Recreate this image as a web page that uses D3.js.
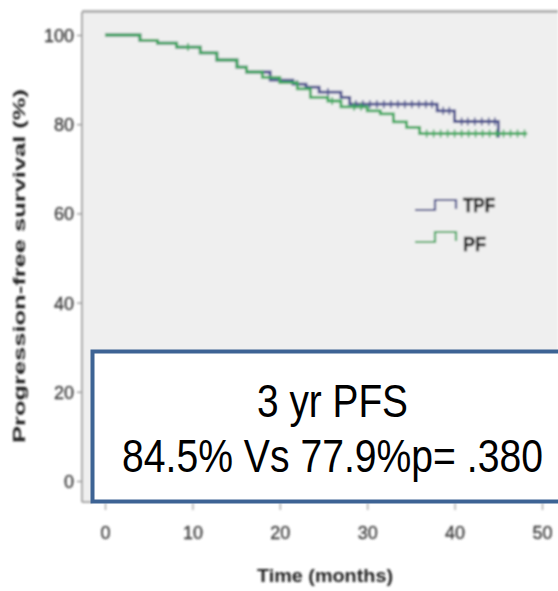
<!DOCTYPE html>
<html>
<head>
<meta charset="utf-8">
<script src="https://cdn.jsdelivr.net/npm/d3@7"></script>
<style>
  html, body { margin: 0; padding: 0; background: #ffffff; }
  svg { display: block; }
</style>
</head>
<body>
<svg id="chart" width="558" height="591"></svg>
<script>
// Kaplan-Meier step data: event times (months) and survival (%)
const tpfTimes = [0, 4.0, 6.0, 8.2, 10.9, 12.8, 15.1, 16.2, 18.9, 21.5, 23.0, 24.5, 27.0, 28.0, 38.0, 40.0, 45.0];
const tpfSurv  = [100, 98.8, 98.2, 97.3, 96.0, 94.4, 92.8, 91.7, 89.9, 89.0, 88.3, 87.2, 86.0, 84.5, 83.0, 80.6, 77.0];
const tpfEnd = 45.0;
const tpfCensored = [22.0, 25.5, 28.7, 29.5, 30.3, 31.1, 31.9, 32.7, 33.5, 34.3, 35.1, 35.9, 36.7, 37.4, 38.7, 39.4, 40.8, 41.5, 42.3, 43.1, 43.9, 44.6];

const pfTimes = [0, 4.0, 6.0, 8.2, 10.9, 12.8, 15.1, 16.2, 18.0, 20.0, 22.0, 23.5, 25.5, 27.0, 30.0, 31.5, 33.0, 34.5, 36.0];
const pfSurv  = [100, 98.8, 98.2, 97.3, 96.0, 94.4, 92.8, 91.7, 90.5, 89.3, 87.9, 86.0, 85.2, 83.9, 83.0, 82.3, 80.5, 79.3, 77.9];
const pfEnd = 48.3;
const pfCensored = [9.5, 26.0, 28.5, 29.3, 36.8, 37.6, 38.4, 39.2, 40.0, 40.8, 41.6, 42.4, 43.2, 44.0, 44.8, 45.6, 46.4, 47.2, 48.0];

const xTicks = [0, 10, 20, 30, 40, 50];
const yTicks = [0, 20, 40, 60, 80, 100];
const seriesNames = ["TPF", "PF"];
const seriesColors = ["#464c8c", "#3aa85c"];
const noteLines = ["3 yr PFS", "84.5% Vs 77.9%p=  .380"];

const svg = d3.select("#chart");
const x = d3.scaleLinear().domain([0, 50]).range([105, 542]);
const y = d3.scaleLinear().domain([0, 100]).range([481, 35]);

const defs = svg.append("defs");
defs.append("filter").attr("id", "soft")
  .attr("x", "-5%").attr("y", "-5%").attr("width", "110%").attr("height", "110%")
  .append("feGaussianBlur").attr("stdDeviation", 0.8);

const plot = svg.append("g").attr("filter", "url(#soft)");

// panel background and top frame line
plot.append("rect").attr("x", 82).attr("y", 12).attr("width", 476).attr("height", 490).attr("fill", "#efefef");
plot.append("line").attr("x1", 82).attr("x2", 558).attr("y1", 11.5).attr("y2", 11.5)
  .attr("stroke", "#b2b2b2").attr("stroke-width", 3);

const tickFont = "'Liberation Sans Narrow', 'Liberation Sans', Arial, sans-serif";

// y axis (offset below the zero line)
const yAxis = d3.axisLeft(y).tickValues(yTicks).tickSize(5).tickSizeOuter(0).tickPadding(3);
const gy = plot.append("g").attr("transform", "translate(82,0)").call(yAxis);
gy.select(".domain").remove();
gy.append("line").attr("x1", 0).attr("x2", 0).attr("y1", 12).attr("y2", 502)
  .attr("stroke", "#8a8a8a").attr("stroke-width", 1.5);
gy.append("line").attr("x1", 0).attr("x2", 10).attr("y1", 502).attr("y2", 502)
  .attr("stroke", "#8a8a8a").attr("stroke-width", 1.5);
gy.selectAll(".tick line").attr("stroke", "#8a8a8a").attr("stroke-width", 1.2);
gy.selectAll(".tick text")
  .attr("fill", "#3a3a3a").attr("font-family", tickFont).attr("font-size", 18)
  .attr("stroke", "#3a3a3a").attr("stroke-width", 0.3)
  .attr("dy", "0.36em");

// x axis
const xAxis = d3.axisBottom(x).tickValues(xTicks).tickSize(7).tickSizeOuter(0).tickPadding(15);
const gx = plot.append("g").attr("transform", "translate(0,503)").call(xAxis);
gx.select(".domain").remove();
gx.selectAll(".tick line").attr("stroke", "#9a9a9a").attr("stroke-width", 1.2);
gx.selectAll(".tick text")
  .attr("fill", "#3a3a3a").attr("font-family", tickFont).attr("font-size", 18)
  .attr("stroke", "#3a3a3a").attr("stroke-width", 0.3)
  .attr("dy", "0.75em");

// axis titles
plot.append("text")
  .attr("x", 325).attr("y", 582).attr("text-anchor", "middle")
  .attr("font-family", tickFont).attr("font-weight", "bold").attr("font-size", 19)
  .attr("fill", "#222").attr("textLength", 136).attr("lengthAdjust", "spacingAndGlyphs")
  .text("Time (months)");
plot.append("text")
  .attr("transform", "translate(25,266) rotate(-90)").attr("text-anchor", "middle")
  .attr("font-family", tickFont).attr("font-weight", "bold").attr("font-size", 16)
  .attr("fill", "#222").attr("textLength", 354).attr("lengthAdjust", "spacingAndGlyphs")
  .text("Progression-free survival (%)");

// survival curves
const series = [
  { times: tpfTimes, surv: tpfSurv, end: tpfEnd, cens: tpfCensored },
  { times: pfTimes, surv: pfSurv, end: pfEnd, cens: pfCensored }
];
const stepLine = d3.line().x(d => x(d[0])).y(d => y(d[1])).curve(d3.curveStepAfter);
const bisect = d3.bisector(d => d).right;

series.forEach((s, i) => {
  const pts = s.times.map((t, k) => [t, s.surv[k]]);
  pts.push([s.end, s.surv[s.surv.length - 1]]);
  plot.append("path").attr("d", stepLine(pts))
    .attr("fill", "none").attr("stroke", seriesColors[i]).attr("stroke-width", 2.8);
  plot.append("g").selectAll("line").data(s.cens).join("line")
    .attr("x1", t => x(t)).attr("x2", t => x(t))
    .attr("y1", t => y(s.surv[bisect(s.times, t) - 1]) - 4)
    .attr("y2", t => y(s.surv[bisect(s.times, t) - 1]) + 4)
    .attr("stroke", seriesColors[i]).attr("stroke-width", 1.5);
});

// legend
const legendRows = [{ base: 210, text: 212 }, { base: 242, text: 251 }];
seriesNames.forEach((name, i) => {
  const r = legendRows[i];
  const g = plot.append("g");
  g.append("path")
    .attr("d", `M415,${r.base}H435V${r.base - 10}H456V${r.base - 1}`)
    .attr("fill", "none").attr("stroke", seriesColors[i]).attr("stroke-width", 2.2);
  g.append("text").attr("x", 463).attr("y", r.text)
    .attr("font-family", tickFont).attr("font-weight", "bold").attr("font-size", 20)
    .attr("fill", "#1a1a1a").attr("stroke", "#1a1a1a").attr("stroke-width", 0.6)
    .attr("textLength", name.length === 3 ? 32 : 23)
    .attr("lengthAdjust", "spacingAndGlyphs")
    .text(name);
});

// annotation box (runs past the right edge)
svg.append("rect").attr("x", 92.5).attr("y", 351.5).attr("width", 470).attr("height", 150)
  .attr("fill", "#ffffff").attr("stroke", "#3d6394").attr("stroke-width", 4);
const noteFont = "'Liberation Sans', Arial, sans-serif";
const stretch = 1.21;
noteLines.forEach((line, k) => {
  const base = k === 0 ? 417 : 472;
  svg.append("text")
    .attr("transform", `translate(332.5,${base}) scale(1,${stretch})`)
    .attr("text-anchor", "middle")
    .attr("font-family", noteFont).attr("font-size", 38.2).attr("fill", "#000")
    .attr("textLength", k === 0 ? 151 : 421).attr("lengthAdjust", "spacingAndGlyphs")
    .text(line);
});
</script>
</body>
</html>
